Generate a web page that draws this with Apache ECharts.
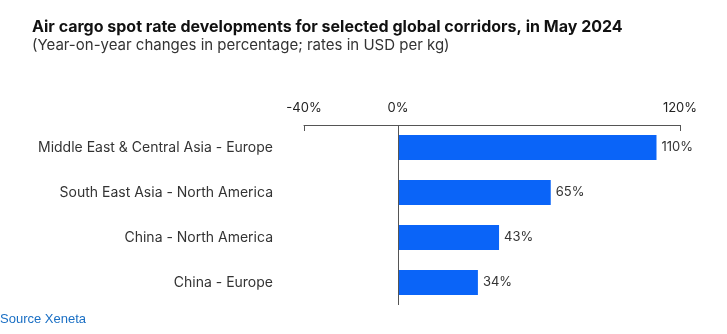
<!DOCTYPE html>
<html><head><meta charset="utf-8">
<script src="https://cdn.jsdelivr.net/npm/echarts@6/dist/echarts.min.js"></script>
<style>html,body{margin:0;padding:0;background:#fff}#c{width:727px;height:334px}</style>
</head><body><div id="c"></div>
<script>
const categories = ['Middle East & Central Asia - Europe', 'South East Asia - North America', 'China - North America', 'China - Europe'];
const values = [110, 65, 43, 34];
const tickLabels = [-40, 0, 120];
const tickMarks = [-40, 120];

const chart = echarts.init(document.getElementById('c'));
chart.setOption({
  animation: false,
  title: [
    {text: 'Air cargo spot rate developments for selected global corridors, in May 2024',
     left: 32, top: 19, padding: 0, textStyle: {fontFamily: 'Inter', fontSize: 16, fontWeight: 'bold', color: '#111'}},
    {text: '(Year-on-year changes in percentage; rates in USD per kg)',
     left: 32, top: 38, padding: 0, textStyle: {fontFamily: 'Inter', fontSize: 15, fontWeight: 'normal', color: '#333'}},
    {text: 'Source Xeneta', left: 0, top: 313, padding: 0,
     textStyle: {fontFamily: 'Liberation Sans', fontSize: 13, fontWeight: 'normal', color: '#1a6fc4'}}
  ],
  grid: {left: 304, right: 47, top: 125, bottom: 29, containLabel: false},
  xAxis: {
    type: 'value', position: 'top', min: -40, max: 120, interval: 40,
    axisLine: {show: true, lineStyle: {color: '#555', width: 1}},
    axisTick: {show: true, inside: true, length: 6, customValues: tickMarks, lineStyle: {color: '#555'}},
    axisLabel: {customValues: tickLabels, formatter: v => v + '%', margin: 10,
      fontFamily: 'Inter', fontSize: 13, color: '#222'},
    splitLine: {show: false}
  },
  yAxis: {
    type: 'category', data: categories, inverse: true,
    axisLine: {show: false, onZero: false}, axisTick: {show: false},
    axisLabel: {margin: 31, fontFamily: 'Inter', fontSize: 14, color: '#333'}
  },
  series: [{
    type: 'bar', data: values, barWidth: 25,
    itemStyle: {color: '#0a64f8'},
    label: {show: true, position: 'right', distance: 5, formatter: p => p.value + '%',
      fontFamily: 'Inter', fontSize: 13, color: '#333'},
    markLine: {silent: true, symbol: 'none', label: {show: false},
      lineStyle: {color: '#555', type: 'solid', width: 1},
      data: [{xAxis: 0}]}
  }]
});
</script></body></html>
